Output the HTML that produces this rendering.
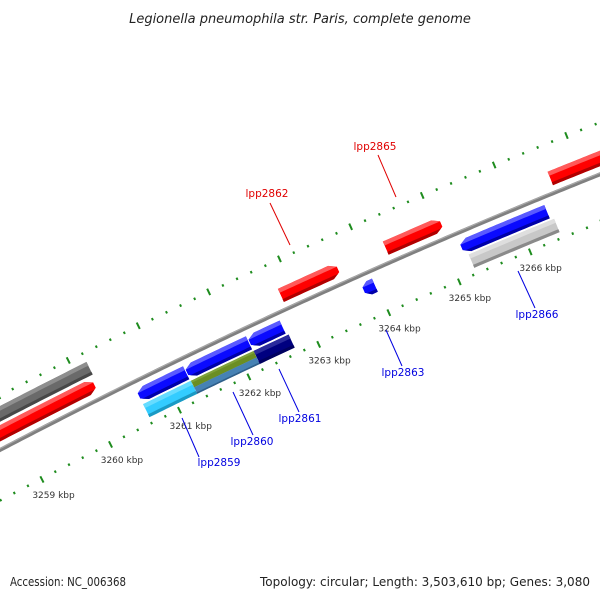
<!DOCTYPE html>
<html><head><meta charset="utf-8"><style>
html,body{margin:0;padding:0;background:#fff;width:600px;height:600px;overflow:hidden;}
svg{display:block;}
text{font-family:"DejaVu Sans","Liberation Sans",sans-serif;}
</style></head><body>
<svg id="map" width="600" height="600" viewBox="0 0 600 600" xmlns="http://www.w3.org/2000/svg">
<rect x="0" y="0" width="600" height="600" fill="#fff"/>
<defs id="defs"></defs>
<g id="ticks"></g>
<g id="backbone"></g>
<g id="features"></g>
<g id="labels"></g>
<text x="300" y="23" text-anchor="middle" font-size="13" font-style="italic" fill="#222">Legionella pneumophila str. Paris, complete genome</text>
<text x="10" y="586" font-size="12" fill="#222" textLength="116" lengthAdjust="spacingAndGlyphs">Accession: NC_006368</text>
<text x="590" y="586" text-anchor="end" font-size="12" fill="#222" textLength="330" lengthAdjust="spacingAndGlyphs">Topology: circular; Length: 3,503,610 bp; Genes: 3,080</text>
</svg>
<script>
// data (kbp)
const featureStart = [3255.0, 3255.0, 3262.82, 3264.30, 3266.60, 3263.82, 3260.61, 3261.30, 3262.20, 3260.61, 3261.30, 3261.30, 3262.20, 3265.20, 3265.25];
const featureEnd   = [3260.20, 3260.16, 3263.63, 3265.08, 3270.0, 3263.98, 3261.29, 3262.19, 3262.67, 3261.30, 3262.20, 3262.20, 3262.70, 3266.40, 3266.45];
const featureSlot  = ['o2','o1','o1','o1','o1','i1','i1','i1','i1','i2','i2top','i2bot','i2','i1','i2'];
const featureArrow = ['none','f','f','f','f','r','r','r','r','none','none','none','none','r','none'];
const featureColor = ['gray','red','red','red','red','blue','blue','blue','blue','cyan','olive','steel','navy','blue','lgray'];
const majorTicks = [3255,3256,3257,3258,3259,3260,3261,3262,3263,3264,3265,3266,3267,3268,3269,3270];
const tickLabels = ['3259 kbp','3260 kbp','3261 kbp','3262 kbp','3263 kbp','3264 kbp','3265 kbp','3266 kbp'];
const tickLabelValues = [3259,3260,3261,3262,3263,3264,3265,3266];

const CX=2987, CY=6161, A0=-117.4*Math.PI/180, STEP=0.01203;
function P(k,r){const a=A0+STEP*(k-3259);return [CX+r*Math.cos(a),CY+r*Math.sin(a)];}
const NS='http://www.w3.org/2000/svg';
function mk(t,attrs,parent){const e=document.createElementNS(NS,t);for(const k in attrs)e.setAttribute(k,attrs[k]);parent.appendChild(e);return e;}
function arcPts(k1,k2,r){const pts=[];const n=Math.max(2,Math.ceil((k2-k1)/0.05));for(let i=0;i<=n;i++){pts.push(P(k1+(k2-k1)*i/n,r));}return pts;}
function fmt(p){return p.map(q=>q[0].toFixed(2)+','+q[1].toFixed(2)).join(' ');}
const slots={o2:[6470,6484],o1:[6452.5,6467],i1:[6423,6437.5],i2:[6406.5,6421],i2top:[6413.75,6421],i2bot:[6406.5,6413.75]};
const colors={red:['#ff0000','#ff5a5a','#b00000'],blue:['#0a0aff','#5a5aff','#0000a8'],gray:['#6a6a6a','#8e8e8e','#474747'],
 lgray:['#c8c8c8','#dedede','#8a8a8a'],cyan:['#33ccff','#66dcff','#1a9ac4'],olive:['#6b8e23','#7fa23a','#6b8e23'],
 steel:['#4682b4','#4682b4','#2f5f8a'],navy:['#000080','#2a2a9c','#000060']};

const defs=document.getElementById('defs');
const tg=document.getElementById('ticks');
for(let j=0;j<majorTicks.length-1;j++){
  for(let m=0;m<5;m++){
    const k=majorTicks[j]+m*0.2;const major=(m===0);
    const o1=P(k,major?6490:6492),o2=P(k,major?6497:6494.5);
    let l=mk('line',{x1:o1[0],y1:o1[1],x2:o2[0],y2:o2[1],stroke:'#1e8c1e','stroke-width':2},tg);
    
    
    const i1=P(k,major?6403:6401.5),i2=P(k,major?6396:6399);
    l=mk('line',{x1:i1[0],y1:i1[1],x2:i2[0],y2:i2[1],stroke:'#1e8c1e','stroke-width':2},tg);
    
    
  }
}
tickLabels.forEach((t,i)=>{const p=P(tickLabelValues[i],6383);
  const e=mk('text',{x:p[0]+4,y:p[1]+4,'text-anchor':'middle','font-size':'9',fill:'#333'},tg);e.textContent=t;
  
  });
const bg=document.getElementById('backbone');
let bb=mk('polyline',{points:fmt(arcPts(3254,3271,6445)),fill:'none',stroke:'#808080','stroke-width':4},bg);


bb=mk('polyline',{points:fmt(arcPts(3254,3271,6446.3)),fill:'none',stroke:'#a8a8a8','stroke-width':1.2},bg);


const fg=document.getElementById('features');
featureStart.forEach((k1,i)=>{
  const k2=featureEnd[i];const [r1,r2]=slots[featureSlot[i]];const c=colors[featureColor[i]];
  const h=Math.min(0.1,(k2-k1)*0.5);const rm=(r1+r2)/2;let pts;
  if(featureArrow[i]==='f'){pts=[...arcPts(k1,k2-h,r2),P(k2,rm+3),P(k2,rm-3),...arcPts(k1,k2-h,r1).reverse()];}
  else if(featureArrow[i]==='r'){pts=[P(k1,rm-3),P(k1,rm+3),...arcPts(k1+h,k2,r2),...arcPts(k1+h,k2,r1).reverse()];}
  else{pts=[...arcPts(k1,k2,r2),...arcPts(k1,k2,r1).reverse()];}
  const cp=mk('clipPath',{id:'cp'+i},defs);mk('polygon',{points:fmt(pts)},cp);
  const g=mk('g',{'clip-path':'url(#cp'+i+')'},fg);
  
  
  const t=r2-r1;
  mk('polygon',{points:fmt(pts),fill:c[0]},g);
  mk('polygon',{points:fmt([...arcPts(k1-0.2,k2+0.2,r2+1),...arcPts(k1-0.2,k2+0.2,r2-t*0.3).reverse()]),fill:c[1]},g);
  mk('polygon',{points:fmt([...arcPts(k1-0.2,k2+0.2,r1+t*0.22),...arcPts(k1-0.2,k2+0.2,r1-1).reverse()]),fill:c[2]},g);
});
const lg=document.getElementById('labels');
const labs=[['lpp2862',267,197,'#e00000',270,203,290,245],['lpp2865',375,150,'#e00000',378,155,396,197],
 ['lpp2859',219,466,'#0000e0',182,418,199,457],['lpp2860',252,445,'#0000e0',233,392,253,435],
 ['lpp2861',300,422,'#0000e0',279,369,299,412],['lpp2863',403,376,'#0000e0',386,330,402,366],
 ['lpp2866',537,318,'#0000e0',518,271,535,308]];
labs.forEach(L=>{
  const ln=mk('line',{x1:L[4],y1:L[5],x2:L[6],y2:L[7],stroke:L[3],'stroke-width':1},lg);
  
  
  const t=mk('text',{x:L[1],y:L[2],'text-anchor':'middle','font-size':'10.5',fill:L[3]},lg);t.textContent=L[0];
  
  
});
</script>
</body></html>
